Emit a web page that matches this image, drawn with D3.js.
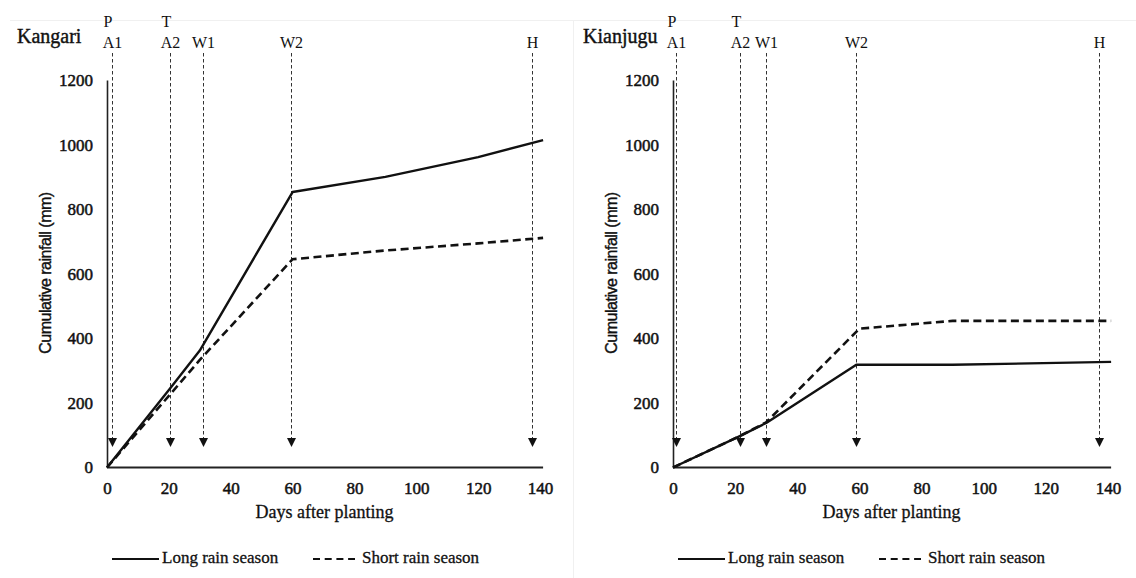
<!DOCTYPE html>
<html>
<head>
<meta charset="utf-8">
<script src="https://cdn.jsdelivr.net/npm/d3@7"></script>
<style>
  html, body { margin: 0; padding: 0; background: #fff; }
  svg { display: block; }
  .serif { font-family: "Liberation Serif", "Times New Roman", serif; }
  .sans { font-family: "Liberation Sans", Arial, sans-serif; }
</style>
</head>
<body>
<svg id="chart" width="1136" height="578"></svg>
<script>
// ---------- data ----------
const panelNames = ["Kangari", "Kianjugu"];
const xTicks = [0, 20, 40, 60, 80, 100, 120, 140];
const yTicks = [0, 200, 400, 600, 800, 1000, 1200];
const seriesNames = ["Long rain season", "Short rain season"];
const stageTop = ["P", "T", "", "", ""];
const stageBottom = ["A1", "A2", "W1", "W2", "H"];

// Kangari
const kangariLongDays = [0, 20, 30, 60, 90, 120, 141];
const kangariLong = [0, 240, 362, 853, 900, 961, 1014];
const kangariShortDays = [0, 20, 30, 60, 90, 120, 141];
const kangariShort = [0, 222, 333, 645, 672, 694, 711];
const kangariStageDays = [1.5, 20.5, 31, 59.5, 137.5];

// Kianjugu
const kianjuguLongDays = [0, 21, 30, 59, 90, 141];
const kianjuguLong = [0, 95, 138, 318, 318, 327];
const kianjuguShortDays = [0, 21, 30, 60, 90, 141];
const kianjuguShort = [0, 95, 140, 430, 454, 454];
const kianjuguStageDays = [1, 21.5, 30, 59, 137];

// ---------- layout ----------
const panels = [
  { name: panelNames[0], x0: 107, x1: 540, titleX: 17,
    long: [kangariLongDays, kangariLong], short: [kangariShortDays, kangariShort],
    stages: kangariStageDays },
  { name: panelNames[1], x0: 673, x1: 1108, titleX: 583,
    long: [kianjuguLongDays, kianjuguLong], short: [kianjuguShortDays, kianjuguShort],
    stages: kianjuguStageDays }
];

const svg = d3.select("#chart");
const ink = "#111";

// faint frame lines
svg.append("line").attr("x1", 10).attr("x2", 1136).attr("y1", 20.5).attr("y2", 20.5)
  .attr("stroke", "#f0f0f0").attr("stroke-width", 1);
svg.append("line").attr("x1", 573.5).attr("x2", 573.5).attr("y1", 20).attr("y2", 578)
  .attr("stroke", "#f0f0f0").attr("stroke-width", 1);

function heavy(sel, w) {
  return sel.attr("stroke", ink).attr("stroke-width", w).attr("paint-order", "stroke");
}

panels.forEach(p => {
  const x = d3.scaleLinear().domain([0, 140]).range([p.x0, p.x1]);
  const y = d3.scaleLinear().domain([0, 1200]).range([467.5, 80]);
  const g = svg.append("g");

  // title
  heavy(g.append("text").attr("class", "serif").attr("x", p.titleX).attr("y", 43)
    .style("font-size", "20px").attr("fill", ink)
    .text(p.name), 0.4);

  // y axis
  const yAxis = d3.axisLeft(y).tickValues(yTicks).tickSize(0).tickPadding(14).tickFormat(d3.format("d"));
  const ya = g.append("g").attr("transform", `translate(${x(0)},0)`).call(yAxis);
  ya.attr("font-family", null).attr("font-size", null);
  ya.select(".domain").attr("stroke", "#222").attr("stroke-width", 1.6);
  heavy(ya.selectAll("text").attr("class", "serif").style("font-size", "17px").attr("fill", ink), 0.5);

  // x axis
  const xAxis = d3.axisBottom(x).tickValues(xTicks).tickSize(0).tickPadding(14);
  const xa = g.append("g").attr("transform", `translate(0,${y(0)})`).call(xAxis);
  xa.attr("font-family", null).attr("font-size", null);
  xa.select(".domain").attr("d", `M${x(0)},0H${x(141)}`).attr("stroke", "#222").attr("stroke-width", 2.2);
  heavy(xa.selectAll("text").attr("class", "serif").style("font-size", "17px").attr("fill", ink), 0.5);

  // axis titles
  heavy(g.append("text").attr("class", "serif").attr("x", (x(0) + x(140)) / 2 + 1).attr("y", 518)
    .attr("text-anchor", "middle").style("font-size", "18px").attr("fill", ink)
    .text("Days after planting"), 0.3);
  heavy(g.append("text").attr("class", "sans").attr("transform", `translate(${x(0) - 56},${273}) rotate(-90)`)
    .attr("text-anchor", "middle").style("font-size", "16px")
    .attr("letter-spacing", -0.5).attr("fill", ink)
    .text("Cumulative rainfall (mm)"), 0.4);

  // stage markers
  p.stages.forEach((d, i) => {
    const sx = Math.round(x(d)) + 0.5;
    g.append("line").attr("x1", sx).attr("x2", sx).attr("y1", 53).attr("y2", 440)
      .attr("stroke", "#333").attr("stroke-width", 1).attr("stroke-dasharray", "3.5,2.5");
    g.append("path").attr("d", `M${sx - 4.5},438L${sx + 4.5},438L${sx},447Z`).attr("fill", ink);
    g.append("text").attr("class", "serif").attr("x", sx).attr("y", 48).attr("text-anchor", "middle")
      .style("font-size", "16px").attr("fill", ink).text(stageBottom[i]);
    if (stageTop[i]) {
      g.append("text").attr("class", "serif").attr("x", sx - 9).attr("y", 27)
        .style("font-size", "16px").attr("fill", ink).text(stageTop[i]);
    }
  });

  // series lines
  const line = d3.line().x(d => x(d[0])).y(d => y(d[1]));
  const longPts = p.long[0].map((d, i) => [d, p.long[1][i]]);
  const shortPts = p.short[0].map((d, i) => [d, p.short[1][i]]);
  g.append("path").datum(shortPts).attr("d", line).attr("fill", "none")
    .attr("stroke", ink).attr("stroke-width", 2.6).attr("stroke-dasharray", "8,4.5");
  g.append("path").datum(longPts).attr("d", line).attr("fill", "none")
    .attr("stroke", ink).attr("stroke-width", 2.4).attr("stroke-linejoin", "round");

  // legend
  const lx = p.x0 + 5;
  g.append("line").attr("x1", lx).attr("x2", lx + 47).attr("y1", 559).attr("y2", 559)
    .attr("stroke", ink).attr("stroke-width", 2.2);
  heavy(g.append("text").attr("class", "serif").attr("x", lx + 50).attr("y", 563).style("font-size", "17px")
    .attr("fill", ink).text(seriesNames[0]), 0.3);
  g.append("line").attr("x1", lx + 201).attr("x2", lx + 243).attr("y1", 559).attr("y2", 559)
    .attr("stroke", ink).attr("stroke-width", 2.2).attr("stroke-dasharray", "7,4.7");
  heavy(g.append("text").attr("class", "serif").attr("x", lx + 250).attr("y", 563).style("font-size", "17px")
    .attr("fill", ink).text(seriesNames[1]), 0.3);
});
</script>
</body>
</html>
